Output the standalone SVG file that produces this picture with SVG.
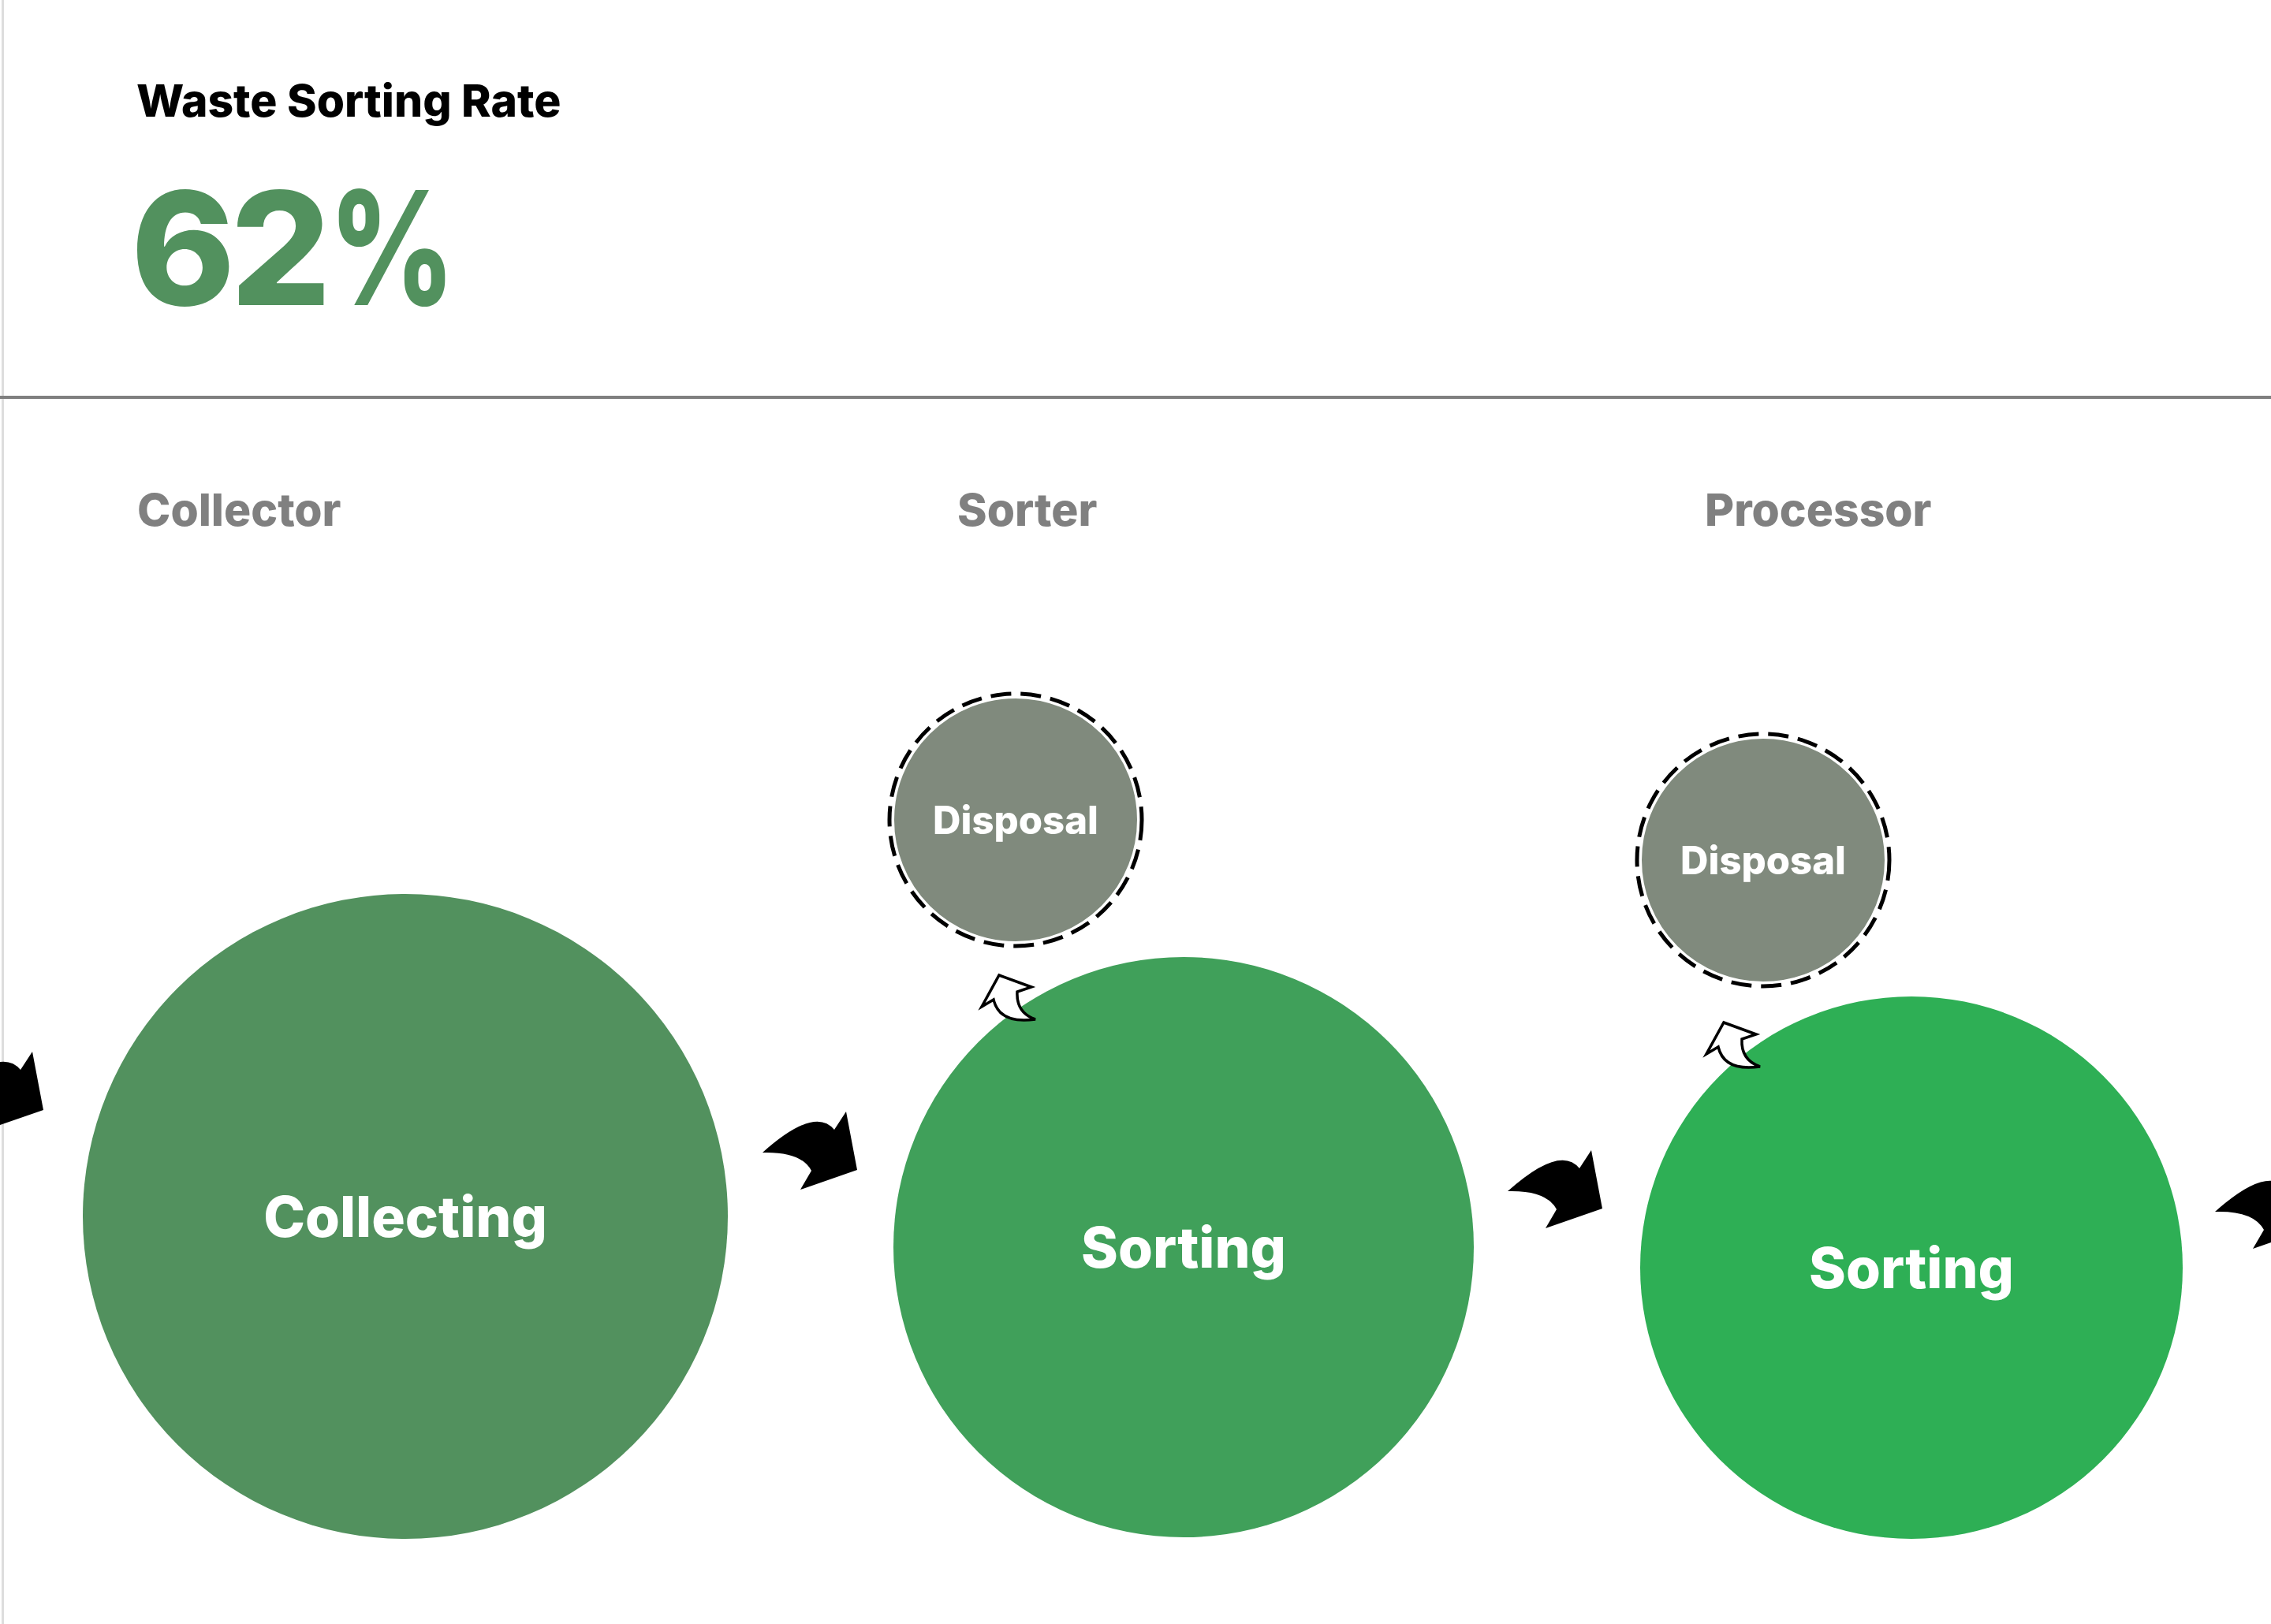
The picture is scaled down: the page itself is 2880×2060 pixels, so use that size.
<svg xmlns="http://www.w3.org/2000/svg" width="2880" height="2060" viewBox="0 0 2880 2060">
<defs>
<style>
.t{font-family:Inter,"Noto Sans","Liberation Sans",sans-serif;font-weight:800}
.lane{font-size:57px;fill:#808080}
.lbl{fill:#ffffff;text-anchor:middle;dominant-baseline:central}
.big{font-size:71px}
.small{font-size:49px}
.arr{fill:#000000}
.open{fill:#ffffff;stroke:#000000;stroke-width:3.5;stroke-linejoin:miter}
.disp{fill:#808a7d;stroke:#ffffff;stroke-width:2}
.dash{fill:none;stroke:#000000;stroke-width:5;stroke-dasharray:26 12}
</style>
<path id="blk" d="M-120,-22 Q-53.5,-81.5 -29,-51 L-14,-74 L0,0 L-72,25 L-58,1 Q-71,-23.5 -120,-22 Z"/>
<path id="opn" d="M1267,1237 L1308,1252 L1290,1258 Q1288.5,1284.5 1313,1293 Q1267.5,1299.5 1260,1268 L1245,1277 Z"/>
</defs>
<rect x="0" y="0" width="2880" height="2060" fill="#ffffff"/>
<rect x="2" y="0" width="3" height="2060" fill="#dddddd"/>
<rect x="0" y="502" width="2880" height="4" fill="#808080"/>
<text class="t" x="173" y="148" font-size="57" fill="#000000">Waste Sorting Rate</text>
<text class="t" x="166" y="387" font-size="200" fill="#52915e" letter-spacing="-6">62<tspan x="417" letter-spacing="0" textLength="160" lengthAdjust="spacingAndGlyphs">%</tspan></text>
<text class="t lane" x="174" y="667">Collector</text>
<text class="t lane" x="1214" y="667">Sorter</text>
<text class="t lane" x="2162" y="667">Processor</text>
<g id="node-collecting">
<circle cx="514" cy="1543" r="409" fill="#52915e"/>
<text class="t lbl big" x="514" y="1543">Collecting</text>
</g>
<g id="node-sorting-1">
<circle cx="1501" cy="1582" r="368" fill="#40a05a"/>
<text class="t lbl big" x="1501" y="1582">Sorting</text>
</g>
<g id="node-sorting-2">
<circle cx="2424" cy="1608" r="344" fill="#2eaf55"/>
<text class="t lbl big" x="2424" y="1608">Sorting</text>
</g>
<g id="node-disposal-1">
<circle class="disp" cx="1288" cy="1040" r="155"/>
<circle class="dash" cx="1288" cy="1040" r="160"/>
<text class="t lbl small" x="1288" y="1040">Disposal</text>
</g>
<g id="node-disposal-2">
<circle class="disp" cx="2236" cy="1091" r="155"/>
<circle class="dash" cx="2236" cy="1091" r="160"/>
<text class="t lbl small" x="2236" y="1091">Disposal</text>
</g>
<g id="connectors">
<use href="#blk" class="arr" transform="translate(55,1408)"/>
<use href="#blk" class="arr" transform="translate(1087,1484)"/>
<use href="#blk" class="arr" transform="translate(2032,1533)"/>
<use href="#blk" class="arr" transform="translate(2929,1559)"/>
<use href="#opn" class="open"/>
<use href="#opn" class="open" transform="translate(919,60)"/>
</g>
</svg>
